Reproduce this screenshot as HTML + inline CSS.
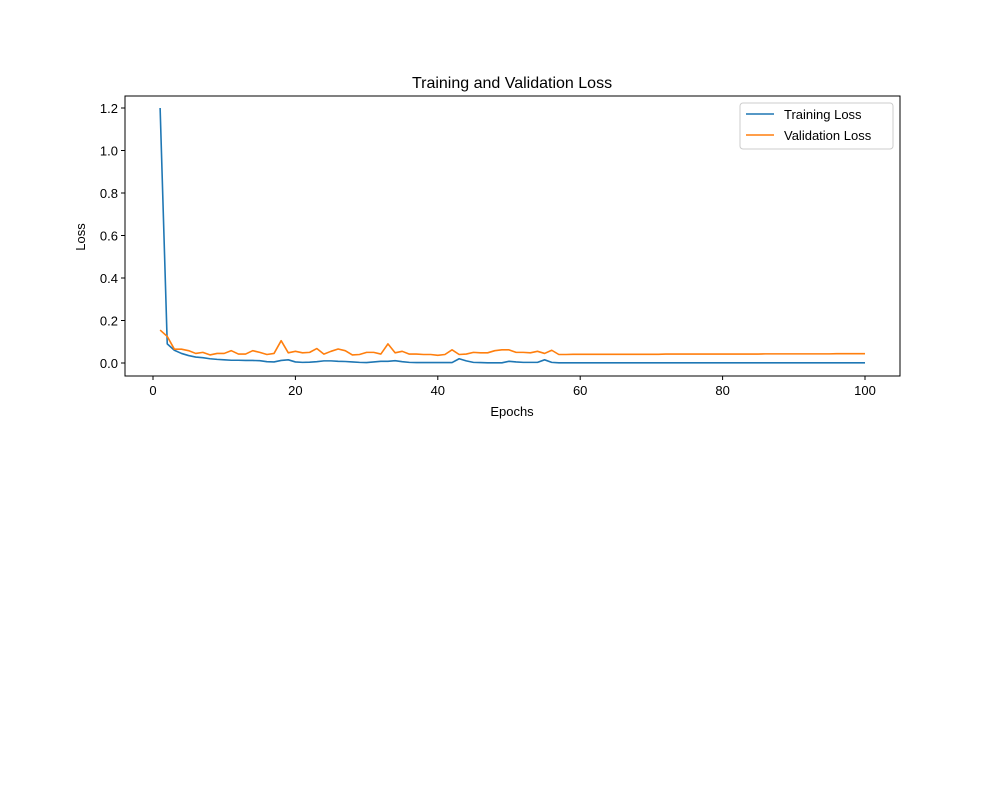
<!DOCTYPE html>
<html><head><meta charset="utf-8"><style>body{margin:0;background:#fff}svg{font-family:"Liberation Sans","DejaVu Sans",sans-serif}</style></head>
<body>
<svg id="chart" width="1000" height="800"></svg>
<script>
const epochs = Array.from({length:100},(_,i)=>i+1);
const trainHead = [1.2,0.09,0.06,0.045,0.035,0.028,0.025,0.02,0.017,0.015,0.013,0.013,0.012,0.012,0.011,0.006,0.005,0.012,0.015,0.005,0.003,0.004,0.006,0.01,0.01,0.008,0.007,0.005,0.003,0.002,0.005,0.008,0.008,0.011,0.006,0.003,0.002,0.002,0.002,0.002,0.002,0.002,0.02,0.01,0.003,0.002,0.001,0.001,0.001,0.008,0.005,0.003,0.003,0.003,0.015,0.003];
const trainTail = [0.001,0.001,0.001,0.001,0.001,0.001,0.001,0.001,0.001,0.001,0.001,0.001,0.001,0.001,0.001,0.001,0.001,0.001,0.001,0.001,0.001,0.001,0.001,0.001,0.001,0.001,0.001,0.001,0.001,0.001,0.001,0.001,0.001,0.001,0.001,0.001,0.001,0.001,0.001,0.001,0.001,0.001,0.001,0.001];
const valHead = [0.155,0.125,0.065,0.065,0.058,0.045,0.05,0.038,0.045,0.045,0.058,0.042,0.042,0.058,0.05,0.04,0.045,0.105,0.048,0.055,0.048,0.05,0.068,0.042,0.055,0.066,0.058,0.038,0.04,0.05,0.05,0.042,0.09,0.048,0.055,0.042,0.042,0.04,0.04,0.036,0.04,0.062,0.04,0.042,0.05,0.048,0.048,0.058,0.062,0.062,0.05,0.05,0.048,0.055,0.045,0.06];
const valTail = [0.040,0.040,0.041,0.041,0.041,0.041,0.041,0.041,0.041,0.041,0.041,0.041,0.041,0.041,0.041,0.042,0.042,0.042,0.042,0.042,0.042,0.042,0.042,0.042,0.042,0.042,0.042,0.042,0.042,0.043,0.043,0.043,0.043,0.043,0.043,0.043,0.043,0.043,0.043,0.044,0.044,0.044,0.044,0.044];
const trainLoss = trainHead.concat(trainTail);
const valLoss = valHead.concat(valTail);
const xTicks = [0,20,40,60,80,100];
const yTicks = [0.0,0.2,0.4,0.6,0.8,1.0,1.2];

const NS="http://www.w3.org/2000/svg", svg=document.getElementById('chart');
const L=125,R=900,T=96,B=376;
const xs=v=>153+(v)*(865-153)/100;
const ys=v=>363-v*(363-108)/1.2;
function el(t,a,p){const e=document.createElementNS(NS,t);for(const k in a)e.setAttribute(k,a[k]);(p||svg).appendChild(e);return e;}
let t=el('text',{x:512,y:88,'text-anchor':'middle','font-size':16});t.textContent='Training and Validation Loss';


xTicks.forEach(v=>{const g=el('g',{});


el('line',{x1:xs(v),x2:xs(v),y1:B,y2:B+4,stroke:'#000'},g);
const s=el('text',{x:xs(v),y:B+19,'text-anchor':'middle','font-size':13},g);s.textContent=v;});
yTicks.forEach(v=>{const g=el('g',{});


el('line',{x1:L-4,x2:L,y1:ys(v),y2:ys(v),stroke:'#000'},g);
const s=el('text',{x:L-7,y:ys(v)+5,'text-anchor':'end','font-size':13},g);s.textContent=v.toFixed(1);});
t=el('text',{x:512,y:416,'text-anchor':'middle','font-size':13});t.textContent='Epochs';


t=el('text',{x:85,y:237,'text-anchor':'middle','font-size':13,transform:'rotate(-90 85 237)'});t.textContent='Loss';


function line(data,color,name){const p=el('polyline',{points:data.map((v,i)=>xs(epochs[i])+','+ys(v)).join(' '),fill:'none',stroke:color,'stroke-width':1.6,'stroke-linejoin':'round'});

}
line(trainLoss,'#1f77b4','training-loss-line');
line(valLoss,'#ff7f0e','validation-loss-line');
const f=el('rect',{x:L,y:T,width:R-L,height:B-T,fill:'none',stroke:'#000','stroke-width':1});


const lg=el('g',{});


el('rect',{x:740,y:103,width:153,height:46,rx:3,fill:'#fff',stroke:'#ccc'},lg);
[['Training Loss','#1f77b4',114],['Validation Loss','#ff7f0e',135]].forEach(([n,c,y])=>{const g=el('g',{},lg);


el('line',{x1:746,x2:774,y1:y,y2:y,stroke:c,'stroke-width':1.6},g);
const s=el('text',{x:784,y:y+5,'font-size':13},g);s.textContent=n;});
</script>
</body></html>
